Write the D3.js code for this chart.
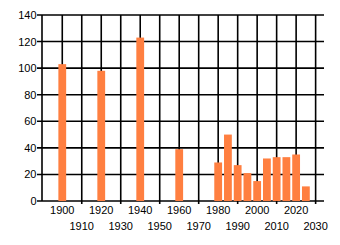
<!DOCTYPE html>
<html>
<head>
<meta charset="utf-8">
<script src="https://cdn.jsdelivr.net/npm/d3@7"></script>
<style>
  body { margin: 0; background: #fff; }
  text { font-family: "Liberation Sans", Arial, sans-serif; font-size: 11px; fill: #000; }
</style>
</head>
<body>
<div id="chart"></div>
<script>
// values
const years = [1900, 1920, 1940, 1960, 1980, 1985, 1990, 1995, 2000, 2005, 2010, 2015, 2020, 2025];
const counts = [103, 98, 123, 39, 29, 50, 27, 21, 15, 32, 33, 33, 35, 11];
const yTicks = [0, 20, 40, 60, 80, 100, 120, 140];
const xTicks = [1900, 1910, 1920, 1930, 1940, 1950, 1960, 1970, 1980, 1990, 2000, 2010, 2020, 2030];

const W = 340, H = 245;
const plotL = 42, plotR = 324, plotT = 15, plotB = 201;

const svg = d3.select("#chart").append("svg")
  .attr("width", W)
  .attr("height", H);

const x = d3.scaleLinear().domain([1889.6, 2034.3]).range([plotL, plotR]);
const y = d3.scaleLinear().domain([0, 140]).range([plotB, plotT]);

// grid
const grid = svg.append("g").attr("stroke", "#000").attr("stroke-width", 1.6);
grid.selectAll(".h").data(yTicks).enter().append("line")
  .attr("x1", plotL - 5).attr("x2", plotR)
  .attr("y1", d => y(d)).attr("y2", d => y(d));
grid.selectAll(".v").data(xTicks).enter().append("line")
  .attr("x1", d => x(d)).attr("x2", d => x(d))
  .attr("y1", plotT).attr("y2", (d, i) => i % 2 ? plotB + 3 : plotB);
grid.append("line")
  .attr("x1", plotL).attr("x2", plotL)
  .attr("y1", plotT).attr("y2", plotB);

// bars
svg.append("g").selectAll("rect").data(years).enter().append("rect")
  .attr("x", d => x(d - 2))
  .attr("width", d => x(d + 2) - x(d - 2))
  .attr("y", (d, i) => y(counts[i]))
  .attr("height", (d, i) => y(0) - y(counts[i]))
  .attr("fill", "#ff7f40");

// y labels
svg.append("g").selectAll("text").data(yTicks).enter().append("text")
  .attr("x", plotL - 5.5)
  .attr("y", d => y(d) + 4)
  .attr("text-anchor", "end")
  .text(d => d);

// x labels, staggered on two rows
svg.append("g").selectAll("text").data(xTicks).enter().append("text")
  .attr("x", d => x(d))
  .attr("y", (d, i) => i % 2 ? 230 : 214)
  .attr("text-anchor", "middle")
  .text(d => d);
</script>
</body>
</html>
